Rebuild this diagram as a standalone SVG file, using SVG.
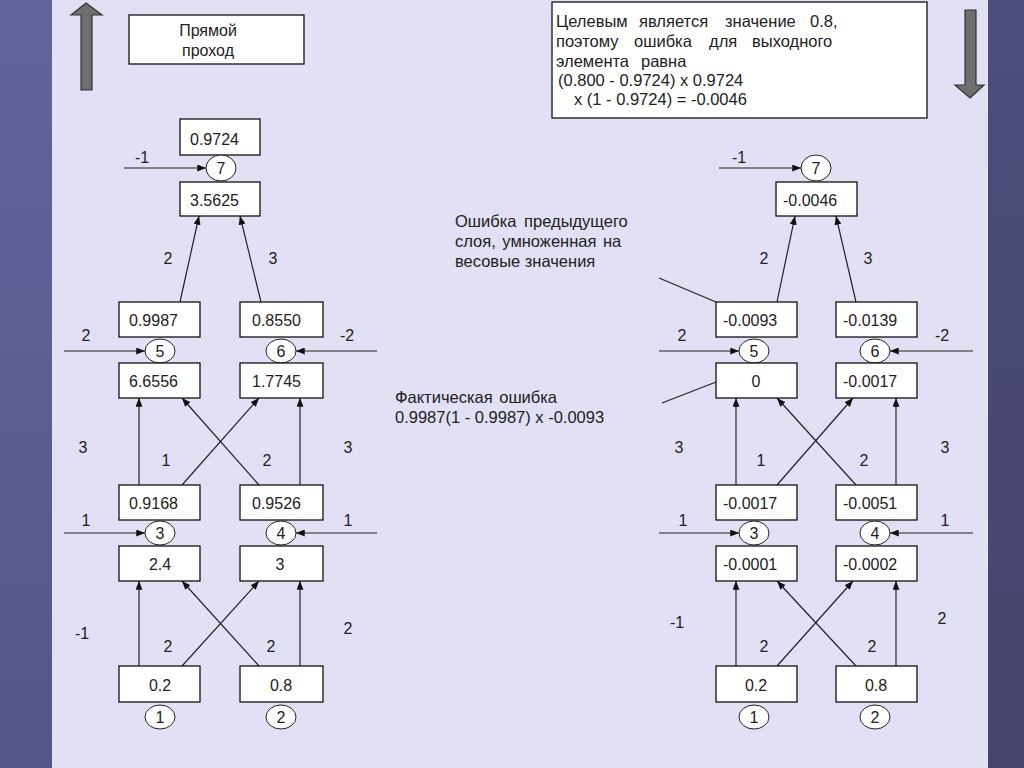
<svg xmlns="http://www.w3.org/2000/svg" width="1024" height="768" viewBox="0 0 1024 768">
<defs>
<linearGradient id="gl" x1="0" y1="0" x2="0" y2="1"><stop offset="0" stop-color="#62649c"/><stop offset="1" stop-color="#55568a"/></linearGradient>
<linearGradient id="gr" x1="0" y1="0" x2="0" y2="1"><stop offset="0" stop-color="#4d4d7c"/><stop offset="1" stop-color="#44446c"/></linearGradient>
<marker id="ah" viewBox="0 0 10 8" refX="10" refY="4" markerWidth="9" markerHeight="7" orient="auto" markerUnits="userSpaceOnUse"><path d="M0,0 L10,4 L0,8 z" fill="#111"/></marker>
<style>
text{font-family:"Liberation Sans",Arial,sans-serif;font-size:16px;fill:#222}
.c{text-anchor:middle}
.n{font-size:16.5px}
.box{fill:#fff;stroke:#111;stroke-width:1.3}
.nc{fill:#fff;stroke:#222;stroke-width:1}
.ln{stroke:#222;stroke-width:1.2;fill:none}
.ar{stroke:#222;stroke-width:1.2;fill:none;marker-end:url(#ah)}
.big{fill:#6e6e6e;stroke:#333;stroke-width:1.2}
</style>
</defs>
<rect x="0" y="0" width="1024" height="768" fill="#e1e0f5"/>
<rect x="0" y="0" width="52" height="768" fill="url(#gl)"/>
<rect x="988" y="0" width="36" height="768" fill="url(#gr)"/>

<g id="big-arrows">
<polygon class="big" points="86,3 102,15 92,15 92,90 81,90 81,15 71,15"/>
<polygon class="big" points="970,98 984,85 976,85 976,10 965,10 965,85 955,85"/>
</g>

<g id="title-box">
<rect class="box" x="129" y="15" width="175" height="49"/>
<text class="c" x="208" y="36">Прямой</text>
<text class="c" x="208" y="56">проход</text>
</g>

<g id="note-box">
<rect class="box" x="552" y="2" width="375" height="116"/>
<text class="n" y="27"><tspan x="556">Целевым</tspan><tspan x="639">является</tspan><tspan x="725">значение</tspan><tspan x="810">0.8,</tspan></text>
<text class="n" y="47"><tspan x="556">поэтому</tspan><tspan x="634">ошибка</tspan><tspan x="709">для</tspan><tspan x="752">выходного</tspan></text>
<text class="n" y="67"><tspan x="556">элемента</tspan><tspan x="641">равна</tspan></text>
<text class="n" x="558" y="86">(0.800 - 0.9724) x 0.9724</text>
<text class="n" x="574" y="105">x (1 - 0.9724) = -0.0046</text>
</g>

<g id="annotations">
<text class="n" x="455" y="227" word-spacing="3">Ошибка предыдущего</text>
<text class="n" x="455" y="247" word-spacing="2">слоя, умноженная на</text>
<text class="n" x="455" y="267">весовые значения</text>
<text class="n" x="395" y="403" word-spacing="2">Фактическая ошибка</text>
<text class="n" x="395" y="423">0.9987(1 - 0.9987) x -0.0093</text>
</g>

<g id="connectors">
<line class="ar" x1="180" y1="302" x2="199" y2="216"/>
<line class="ar" x1="261" y1="302" x2="240" y2="216"/>
<line class="ar" x1="139" y1="485" x2="139" y2="398"/>
<line class="ar" x1="300" y1="485" x2="300" y2="398"/>
<line class="ar" x1="182" y1="485" x2="259" y2="398"/>
<line class="ar" x1="259" y1="485" x2="182" y2="398"/>
<line class="ar" x1="139" y1="666" x2="139" y2="581"/>
<line class="ar" x1="300" y1="666" x2="300" y2="581"/>
<line class="ar" x1="182" y1="666" x2="259" y2="581"/>
<line class="ar" x1="259" y1="666" x2="182" y2="581"/>
<line class="ar" x1="124" y1="168" x2="206" y2="168"/>
<line class="ar" x1="64" y1="351" x2="145" y2="351"/>
<line class="ar" x1="377" y1="351" x2="296" y2="351"/>
<line class="ar" x1="64" y1="533" x2="145" y2="533"/>
<line class="ar" x1="377" y1="533" x2="296" y2="533"/>

<line class="ar" x1="777" y1="302" x2="795" y2="216"/>
<line class="ar" x1="856" y1="302" x2="836" y2="216"/>
<line class="ar" x1="736" y1="485" x2="736" y2="398"/>
<line class="ar" x1="896" y1="485" x2="896" y2="398"/>
<line class="ar" x1="777" y1="485" x2="853" y2="398"/>
<line class="ar" x1="856" y1="485" x2="777" y2="398"/>
<line class="ar" x1="736" y1="666" x2="736" y2="581"/>
<line class="ar" x1="896" y1="666" x2="896" y2="581"/>
<line class="ar" x1="777" y1="666" x2="853" y2="581"/>
<line class="ar" x1="856" y1="666" x2="777" y2="581"/>
<line class="ar" x1="719" y1="168" x2="801" y2="168"/>
<line class="ar" x1="659" y1="351" x2="739" y2="351"/>
<line class="ar" x1="973" y1="351" x2="890" y2="351"/>
<line class="ar" x1="659" y1="533" x2="739" y2="533"/>
<line class="ar" x1="973" y1="533" x2="890" y2="533"/>

<line class="ln" x1="659" y1="278" x2="716" y2="302"/>
<line class="ln" x1="662" y1="403" x2="716" y2="382"/>
</g>

<g id="weights">
<text class="c" x="142" y="163">-1</text>
<text class="c" x="168" y="264">2</text>
<text class="c" x="273" y="264">3</text>
<text class="c" x="86" y="341">2</text>
<text class="c" x="347" y="341">-2</text>
<text class="c" x="83" y="453">3</text>
<text class="c" x="166" y="466">1</text>
<text class="c" x="267" y="466">2</text>
<text class="c" x="348" y="453">3</text>
<text class="c" x="86" y="526">1</text>
<text class="c" x="348" y="526">1</text>
<text class="c" x="82" y="639">-1</text>
<text class="c" x="168" y="652">2</text>
<text class="c" x="271" y="652">2</text>
<text class="c" x="348" y="634">2</text>

<text class="c" x="739" y="163">-1</text>
<text class="c" x="764" y="264">2</text>
<text class="c" x="868" y="264">3</text>
<text class="c" x="682" y="341">2</text>
<text class="c" x="942" y="341">-2</text>
<text class="c" x="679" y="453">3</text>
<text class="c" x="761" y="466">1</text>
<text class="c" x="864" y="466">2</text>
<text class="c" x="945" y="453">3</text>
<text class="c" x="683" y="526">1</text>
<text class="c" x="945" y="526">1</text>
<text class="c" x="677" y="628">-1</text>
<text class="c" x="764" y="652">2</text>
<text class="c" x="872" y="652">2</text>
<text class="c" x="942" y="624">2</text>
</g>

<g id="fwd-n7">
<rect class="box" x="180" y="119" width="80" height="36"/><text x="190" y="145">0.9724</text>
<ellipse class="nc" cx="221" cy="168" rx="15" ry="13"/><text class="c" x="221" y="174">7</text>
<rect class="box" x="180" y="182" width="80" height="34"/><text x="190" y="206">3.5625</text>
</g>
<g id="fwd-n5">
<rect class="box" x="119" y="302" width="81" height="35"/><text x="129" y="326">0.9987</text>
<ellipse class="nc" cx="160" cy="351" rx="15" ry="12"/><text class="c" x="160" y="357">5</text>
<rect class="box" x="119" y="363" width="81" height="35"/><text x="129" y="387">6.6556</text>
</g>
<g id="fwd-n6">
<rect class="box" x="240" y="302" width="83" height="35"/><text x="252" y="326">0.8550</text>
<ellipse class="nc" cx="281" cy="351" rx="15" ry="12"/><text class="c" x="281" y="357">6</text>
<rect class="box" x="240" y="363" width="83" height="35"/><text x="252" y="387">1.7745</text>
</g>
<g id="fwd-n3">
<rect class="box" x="119" y="485" width="81" height="35"/><text x="129" y="509">0.9168</text>
<ellipse class="nc" cx="160" cy="533" rx="15" ry="12"/><text class="c" x="160" y="539">3</text>
<rect class="box" x="119" y="546" width="81" height="35"/><text class="c" x="160" y="570">2.4</text>
</g>
<g id="fwd-n4">
<rect class="box" x="240" y="485" width="83" height="35"/><text x="252" y="509">0.9526</text>
<ellipse class="nc" cx="281" cy="533" rx="15" ry="12"/><text class="c" x="281" y="539">4</text>
<rect class="box" x="240" y="546" width="83" height="35"/><text class="c" x="280" y="570">3</text>
</g>
<g id="fwd-n1">
<rect class="box" x="119" y="666" width="81" height="36"/><text class="c" x="160" y="691">0.2</text>
<ellipse class="nc" cx="160" cy="717" rx="15" ry="12"/><text class="c" x="160" y="723">1</text>
</g>
<g id="fwd-n2">
<rect class="box" x="240" y="666" width="83" height="36"/><text class="c" x="281" y="691">0.8</text>
<ellipse class="nc" cx="281" cy="717" rx="15" ry="12"/><text class="c" x="281" y="723">2</text>
</g>

<g id="bwd-n7">
<ellipse class="nc" cx="816" cy="168" rx="15" ry="13"/><text class="c" x="816" y="174">7</text>
<rect class="box" x="776" y="182" width="81" height="34"/><text x="783" y="206">-0.0046</text>
</g>
<g id="bwd-n5">
<rect class="box" x="716" y="302" width="81" height="35"/><text x="723" y="326">-0.0093</text>
<ellipse class="nc" cx="754" cy="351" rx="15" ry="12"/><text class="c" x="754" y="357">5</text>
<rect class="box" x="716" y="363" width="81" height="35"/><text class="c" x="756" y="387">0</text>
</g>
<g id="bwd-n6">
<rect class="box" x="836" y="302" width="81" height="35"/><text x="843" y="326">-0.0139</text>
<ellipse class="nc" cx="875" cy="351" rx="15" ry="12"/><text class="c" x="875" y="357">6</text>
<rect class="box" x="836" y="363" width="81" height="35"/><text x="843" y="387">-0.0017</text>
</g>
<g id="bwd-n3">
<rect class="box" x="716" y="485" width="81" height="35"/><text x="723" y="509">-0.0017</text>
<ellipse class="nc" cx="754" cy="533" rx="15" ry="12"/><text class="c" x="754" y="539">3</text>
<rect class="box" x="716" y="546" width="81" height="35"/><text x="723" y="570">-0.0001</text>
</g>
<g id="bwd-n4">
<rect class="box" x="836" y="485" width="81" height="35"/><text x="843" y="509">-0.0051</text>
<ellipse class="nc" cx="875" cy="533" rx="15" ry="12"/><text class="c" x="875" y="539">4</text>
<rect class="box" x="836" y="546" width="81" height="35"/><text x="843" y="570">-0.0002</text>
</g>
<g id="bwd-n1">
<rect class="box" x="716" y="666" width="81" height="36"/><text class="c" x="756" y="691">0.2</text>
<ellipse class="nc" cx="754" cy="717" rx="15" ry="12"/><text class="c" x="754" y="723">1</text>
</g>
<g id="bwd-n2">
<rect class="box" x="836" y="666" width="81" height="36"/><text class="c" x="876" y="691">0.8</text>
<ellipse class="nc" cx="875" cy="717" rx="15" ry="12"/><text class="c" x="875" y="723">2</text>
</g>
</svg>
